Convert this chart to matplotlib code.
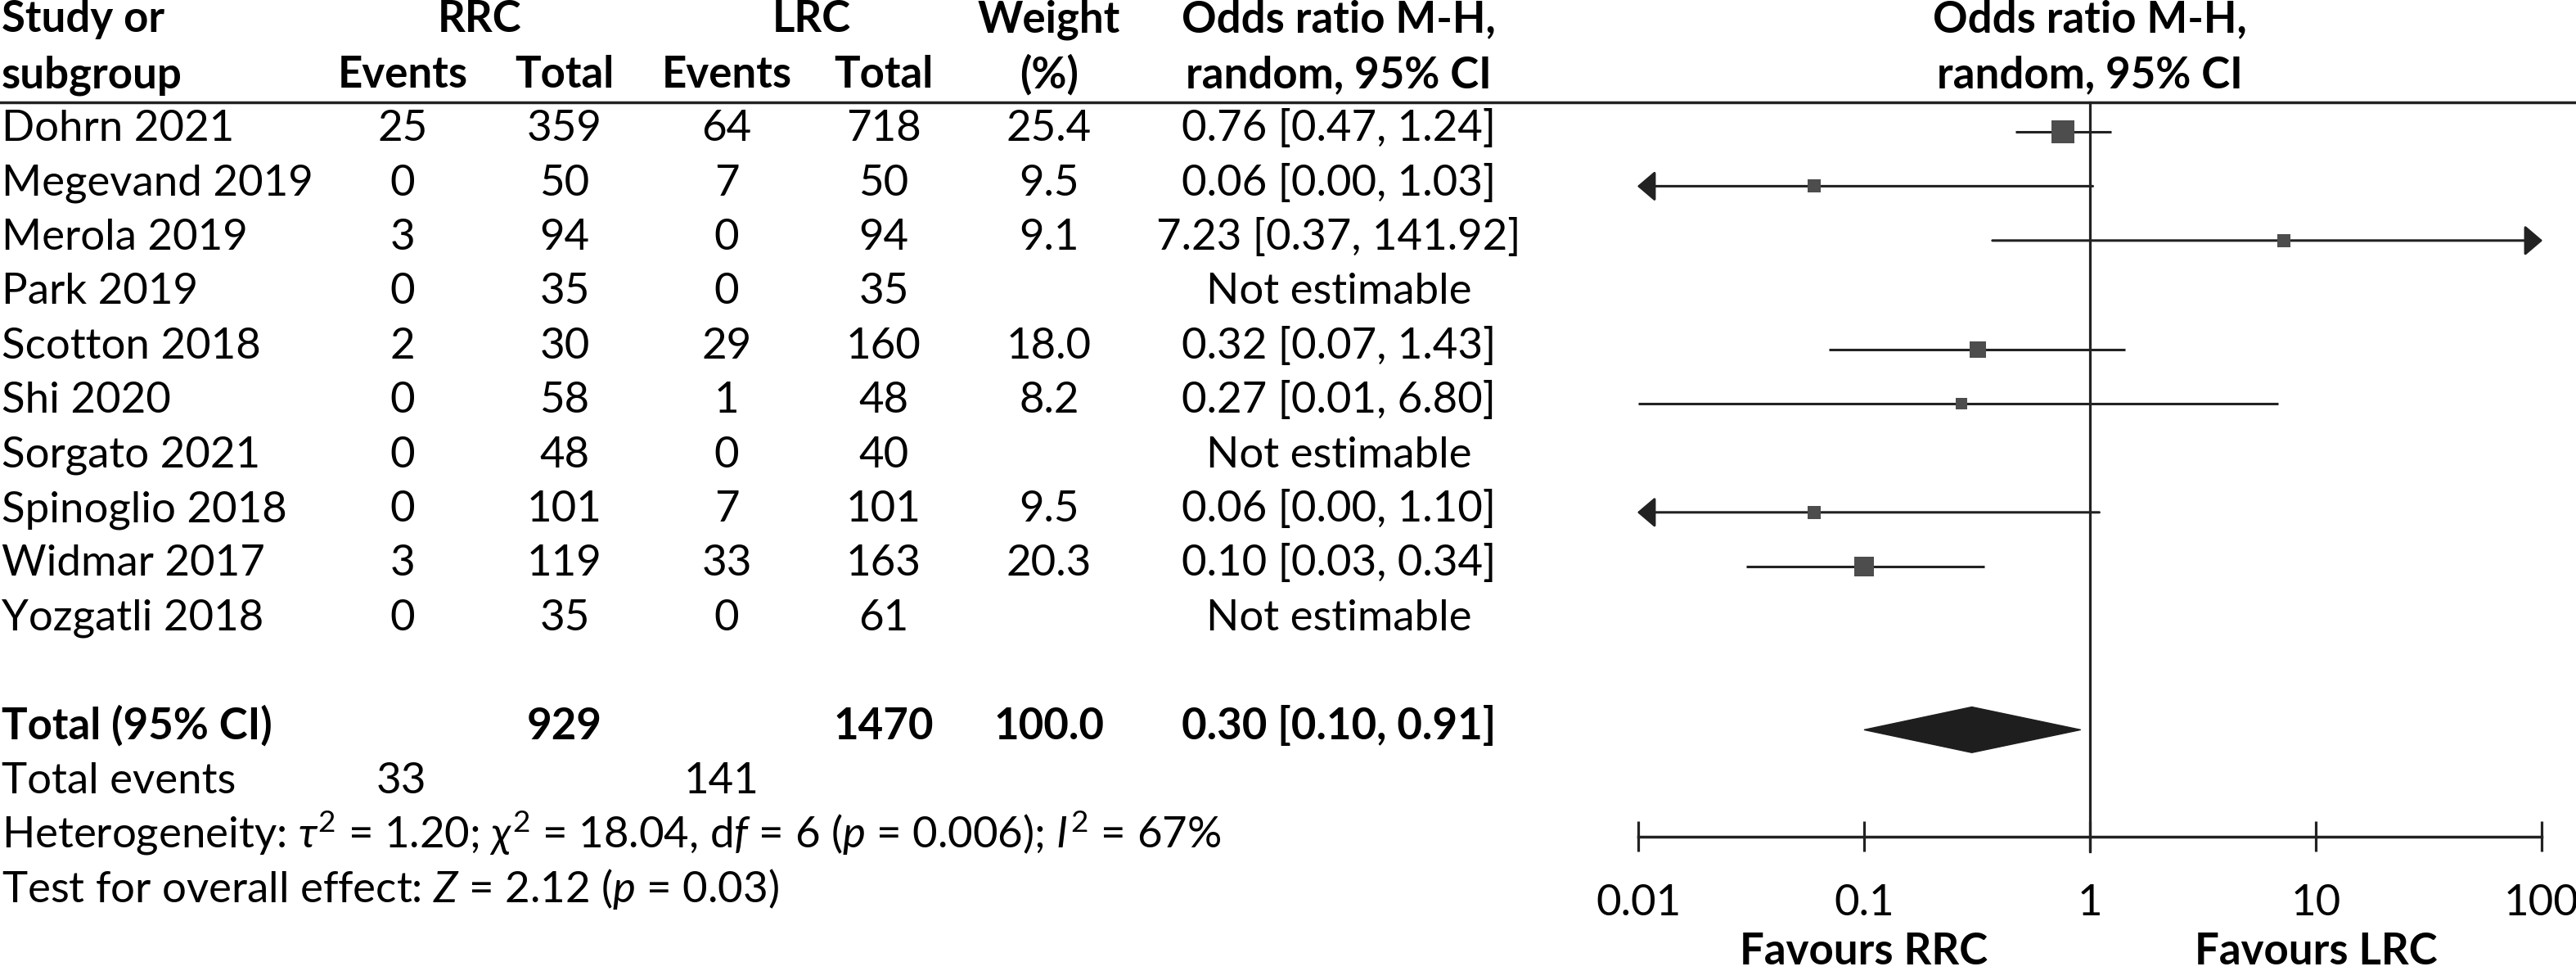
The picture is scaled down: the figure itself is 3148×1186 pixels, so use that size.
import numpy as np
import matplotlib
matplotlib.use('Agg')
import matplotlib.pyplot as plt
from matplotlib.transforms import blended_transform_factory

plt.rcParams['font.family'] = ['Lato', 'DejaVu Sans']
plt.rcParams['mathtext.fontset'] = 'custom'
plt.rcParams['mathtext.rm'] = 'Lato'
plt.rcParams['mathtext.it'] = 'Lato:italic'
plt.rcParams['mathtext.bf'] = 'Lato:bold'

# ---------------- data ----------------
studies = ['Dohrn 2021', 'Megevand 2019', 'Merola 2019', 'Park 2019', 'Scotton 2018',
           'Shi 2020', 'Sorgato 2021', 'Spinoglio 2018', 'Widmar 2017', 'Yozgatli 2018']
rrc_events = [25, 0, 3, 0, 2, 0, 0, 0, 3, 0]
rrc_total = [359, 50, 94, 35, 30, 58, 48, 101, 119, 35]
lrc_events = [64, 7, 0, 0, 29, 1, 0, 7, 33, 0]
lrc_total = [718, 50, 94, 35, 160, 48, 40, 101, 163, 61]
weights = [25.4, 9.5, 9.1, np.nan, 18.0, 8.2, np.nan, 9.5, 20.3, np.nan]
odds = [0.76, 0.06, 7.23, np.nan, 0.32, 0.27, np.nan, 0.06, 0.10, np.nan]
ci_lo = [0.47, 0.00, 0.37, np.nan, 0.07, 0.01, np.nan, 0.00, 0.03, np.nan]
ci_hi = [1.24, 1.03, 141.92, np.nan, 1.43, 6.80, np.nan, 1.10, 0.34, np.nan]

total_rrc = 929
total_lrc = 1470
total_weight = 100.0
pooled = (0.30, 0.10, 0.91)
events_rrc = 33
events_lrc = 141
heterogeneity = r'Heterogeneity: $\tau^2$ = 1.20; $\chi^2$ = 18.04, d$f$ = 6 ($p$ = 0.006); $I^2$ = 67%'
overall = r'Test for overall effect: $Z$ = 2.12 ($p$ = 0.03)'
ticks = [0.01, 0.1, 1, 10, 100]
tick_labels = ['0.01', '0.1', '1', '10', '100']

# ---------------- figure ----------------
W, H = 3148, 1186
fig = plt.figure(figsize=(W / 100, H / 100), dpi=100)
ax = fig.add_axes([2002 / W, 0, 1104 / W, 1])
ax.set_xscale('log')
ax.set_xlim(0.01, 100)
ax.set_ylim(15.437, -2.425)
ax.axis('off')

tr = blended_transform_factory(fig.transFigure, ax.transData)
fs = 38
lc = '#222222'
bl = 0.17  # text baseline offset below the row centre

def col(px):
    return px / W

def put(px, y, s, ha='center', bold=False):
    ax.text(col(px), y + bl, s, transform=tr, ha=ha, va='baseline', fontsize=fs,
            fontweight='bold' if bold else 'normal', clip_on=False)

# headers
hy1, hy2 = -1.837 - bl, -0.813 - bl
put(2, hy1, 'Study or', ha='left', bold=True)
put(2, hy2, 'subgroup', ha='left', bold=True)
put(586, hy1, 'RRC', bold=True)
put(992, hy1, 'LRC', bold=True)
put(492, hy2, 'Events', bold=True)
put(690, hy2, 'Total', bold=True)
put(888, hy2, 'Events', bold=True)
put(1080, hy2, 'Total', bold=True)
put(1282, hy1, 'Weight', bold=True)
put(1282, hy2, '(%)', bold=True)
put(1636, hy1, 'Odds ratio M-H,', bold=True)
put(1636, hy2, 'random, 95% CI', bold=True)
ax.text(1, hy1 + bl, 'Odds ratio M-H,', ha='center', va='baseline', fontsize=fs,
        fontweight='bold', clip_on=False)
ax.text(1, hy2 + bl, 'random, 95% CI', ha='center', va='baseline', fontsize=fs,
        fontweight='bold', clip_on=False)

# header rule
ax.plot([0, 1], [-0.535, -0.535], transform=tr, color=lc, lw=2.5, clip_on=False)

# study rows
for i in range(len(studies)):
    put(2, i, studies[i], ha='left')
    put(492, i, str(rrc_events[i]))
    put(690, i, str(rrc_total[i]))
    put(888, i, str(lrc_events[i]))
    put(1080, i, str(lrc_total[i]))
    if np.isnan(odds[i]):
        put(1636, i, 'Not estimable')
        continue
    put(1282, i, '%.1f' % weights[i])
    put(1636, i, '%.2f [%.2f, %.2f]' % (odds[i], ci_lo[i], ci_hi[i]))

    lo, hi = ci_lo[i], ci_hi[i]
    if lo < 0.01:
        ax.annotate('', xy=(0.0099, i), xytext=(hi, i),
                    arrowprops=dict(arrowstyle='-|>,head_length=13.5,head_width=11.5',
                                    mutation_scale=1, color=lc, lw=2.2,
                                    shrinkA=0, shrinkB=0), annotation_clip=False)
    elif hi > 100:
        ax.annotate('', xy=(101, i), xytext=(lo, i),
                    arrowprops=dict(arrowstyle='-|>,head_length=13.5,head_width=11.5',
                                    mutation_scale=1, color=lc, lw=2.2,
                                    shrinkA=0, shrinkB=0), annotation_clip=False)
    else:
        ax.plot([lo, hi], [i, i], color=lc, lw=2.2, solid_capstyle='butt', clip_on=False)
    side = 13 + 0.0246 * weights[i] ** 2
    ax.plot(odds[i], i, marker='s', markersize=side * 0.72, color='#4d4d4d',
            markeredgewidth=0, zorder=3, clip_on=False)

# totals
yt = 11
put(2, yt, 'Total (95% CI)', ha='left', bold=True)
put(690, yt, str(total_rrc), bold=True)
put(1080, yt, str(total_lrc), bold=True)
put(1282, yt, '%.1f' % total_weight, bold=True)
put(1636, yt, '%.2f [%.2f, %.2f]' % pooled, bold=True)
est, plo, phi = pooled
dh = 0.42
ax.fill([plo, est, phi, est], [yt, yt - dh, yt, yt + dh], color='#1e1e1e',
        lw=1, zorder=3, clip_on=False)

put(2, 12, 'Total events', ha='left')
put(490, 12, str(events_rrc))
put(882, 12, str(events_lrc))
put(2, 13, heterogeneity, ha='left')
put(2, 14, overall, ha='left')

# axis and line of no effect
ax.plot([0.01, 100], [12.967, 12.967], color=lc, lw=2.5, clip_on=False)
ax.vlines(ticks, 12.68, 13.24, color=lc, lw=2.3, clip_on=False)
ax.plot([1, 1], [-0.535, 13.24], color=lc, lw=2.3, clip_on=False)
for t, lab in zip(ticks, tick_labels):
    ax.text(t, 14.41, lab, ha='center', va='baseline', fontsize=fs, clip_on=False)
ax.text(0.1, 15.32, 'Favours RRC', ha='center', va='baseline', fontsize=fs,
        fontweight='bold', clip_on=False)
ax.text(10, 15.32, 'Favours LRC', ha='center', va='baseline', fontsize=fs,
        fontweight='bold', clip_on=False)

fig.savefig('out.png', dpi=100)
